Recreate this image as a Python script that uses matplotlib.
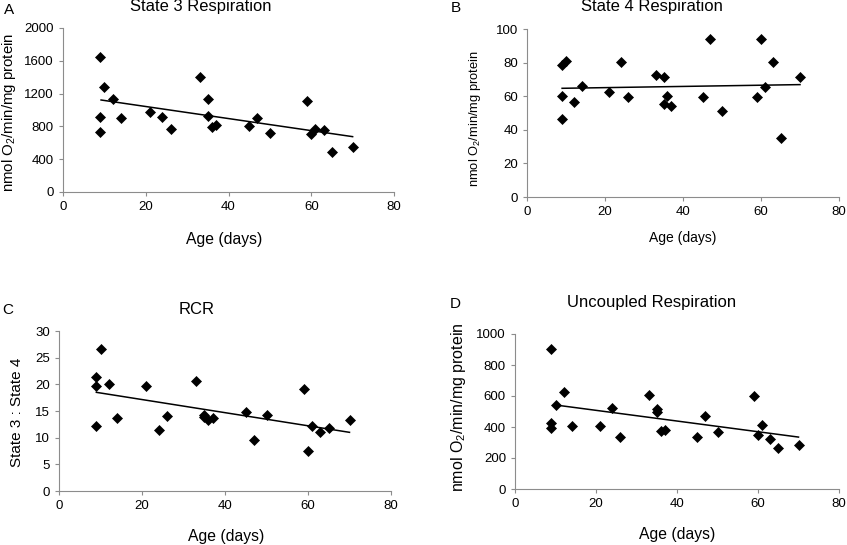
import numpy as np
import matplotlib
matplotlib.use('Agg')
import matplotlib.pyplot as plt

plt.rcParams['font.family'] = ['Liberation Sans', 'DejaVu Sans']
plt.rcParams['mathtext.default'] = 'regular'

# ages (days), shared by all panels
ages = [9, 9, 9, 10, 12, 14, 21, 24, 26, 33, 35, 35, 36, 37, 45, 47, 50, 59, 60, 61, 63, 65, 70]

state3 = [1650, 919, 732, 1280, 1130, 898, 976, 919, 764, 1407, 1130, 931, 793, 813,
          809, 902, 715, 1114, 703, 768, 752, 488, 549]
state4 = [78.3, 60.2, 46.6, 81.1, 56.6, 66.3, 62.4, 80.5, 59.6, 72.9, 71.3, 55.2, 60.4, 54.2,
          59.6, 94.0, 51.2, 59.6, 93.8, 65.3, 80.3, 35.3, 71.5]
rcr = [21.3, 19.7, 12.2, 26.7, 20.1, 13.6, 19.7, 11.5, 14.0, 20.6, 14.3, 13.8, 13.4, 13.6,
       14.8, 9.6, 14.3, 19.2, 7.5, 12.2, 11.0, 11.9, 13.4]
uncoupled = [901, 428, 396, 542, 626, 406, 406, 523, 333, 609, 514, 497, 374, 383,
             333, 471, 366, 602, 348, 415, 325, 262, 284]

# trend lines (start/end)
trend_x_a, trend_a = [9.2, 70], [1122, 675]
trend_x_b, trend_b = [9, 70], [64.7, 66.9]
trend_x_c, trend_c = [9, 70], [18.5, 11.0]
trend_x_d, trend_d = [10, 70], [542, 335]

W, H = 847, 545
fig = plt.figure(figsize=(W / 100, H / 100), dpi=100)


def box(x0, y0, x1, y1):
    # pixel box (top-left origin) -> fig fractions
    return [x0 / W, 1 - y1 / H, (x1 - x0) / W, (y1 - y0) / H]


def ftext(x, y, s, size, rot=0):
    fig.text(x / W, 1 - y / H, s, fontsize=size, rotation=rot, ha='center', va='center')


def panel(rect, yvals, tx, ty, ymax, ystep):
    ax = fig.add_axes(rect)
    ax.plot(ages, yvals, 'D', color='black', ms=5.2, mew=0.5)
    ax.plot(tx, ty, color='black', lw=1.1)
    ax.set_xlim(0, 80)
    ax.set_ylim(0, ymax)
    ax.set_xticks(np.arange(0, 81, 20))
    ax.set_yticks(np.arange(0, ymax + 1e-9, ystep))
    for s in ['top', 'right']:
        ax.spines[s].set_visible(False)
    for s in ['left', 'bottom']:
        ax.spines[s].set_color('#8c8c8c')
        ax.spines[s].set_linewidth(0.8)
    ax.tick_params(colors='#8c8c8c', labelcolor='black', length=3, width=0.8, labelsize=9.5)
    return ax


ylab = 'nmol O$_2$/min/mg protein'

axA = panel(box(63, 28, 394, 192), state3, trend_x_a, trend_a, 2000, 400)
axB = panel(box(527, 29, 839, 197), state4, trend_x_b, trend_b, 100, 20)
axC = panel(box(59, 331, 391, 491), rcr, trend_x_c, trend_c, 30, 5)
axD = panel(box(515, 334, 839, 489), uncoupled, trend_x_d, trend_d, 1000, 200)

# panel letters
ftext(9, 10, 'A', 11)
ftext(456, 8, 'B', 11)
ftext(8, 310, 'C', 11)
ftext(455, 304, 'D', 11)

# titles
ftext(201, 7, 'State 3 Respiration', 11.9)
ftext(652, 7, 'State 4 Respiration', 12)
ftext(197, 309, 'RCR', 12)
ftext(652, 303, 'Uncoupled Respiration', 12)

# x labels
ftext(224, 239, 'Age (days)', 11.3)
ftext(683, 238, 'Age (days)', 10)
ftext(226, 536, 'Age (days)', 11.3)
ftext(677, 535, 'Age (days)', 11.3)

# y labels
ftext(9, 112, ylab, 10.8, 90)
ftext(475, 119, ylab, 9.3, 90)
ftext(17, 412, 'State 3 : State 4', 11, 90)
ftext(458, 407, ylab, 11.5, 90)

fig.savefig('out.png', dpi=100)
